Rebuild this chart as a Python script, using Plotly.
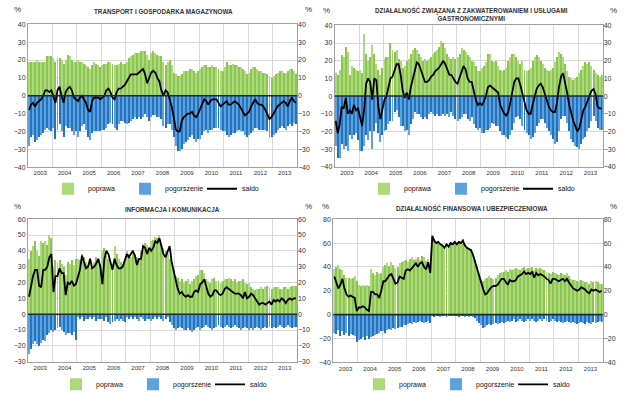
import plotly.graph_objects as go
import pandas as pd

months = pd.date_range("2003-01-01", periods=132, freq="MS")

# ---------- TRANSPORT I GOSPODARKA MAGAZYNOWA ----------
t_pop = [19,19,19,19,20,19,19,19,19,22,22,22,
         21,19,21,21,20,18,20,23,22,20,19,19,
         20,19,19,18,17,16,15,17,19,18,17,16,
         17,18,18,19,19,18,17,17,18,19,18,18,
         19,21,22,23,24,24,24,25,25,25,23,20,
         24,25,24,23,22,22,19,17,19,20,17,13,
         12,11,11,12,14,14,14,15,15,14,13,14,
         15,16,17,17,16,16,17,16,16,15,14,14,
         16,19,17,17,18,17,17,16,16,15,14,12,
         13,15,16,16,15,14,14,13,13,12,11,10,
         11,12,13,14,14,13,13,14,15,15,14,12]
t_pog = [-28,-23,-22,-26,-25,-23,-22,-21,-19,-18,-19,-20,
         -18,-24,-19,-16,-20,-23,-17,-18,-18,-20,-22,-20,
         -23,-20,-17,-16,-19,-23,-25,-21,-20,-20,-20,-20,
         -19,-19,-18,-16,-15,-16,-18,-19,-16,-14,-14,-15,
         -16,-15,-14,-13,-12,-13,-12,-13,-12,-10,-12,-14,
         -12,-11,-11,-12,-12,-13,-17,-18,-16,-16,-19,-23,
         -28,-31,-31,-30,-27,-26,-25,-23,-22,-24,-26,-24,
         -24,-22,-20,-19,-21,-19,-19,-18,-18,-18,-19,-20,
         -20,-22,-23,-22,-21,-21,-20,-19,-20,-20,-22,-23,
         -22,-21,-20,-18,-18,-19,-19,-19,-19,-20,-23,-23,
         -22,-21,-19,-18,-17,-18,-19,-17,-16,-17,-15,-16]
t_sal = [-8,-5,-4,-6,-4,-3,-2,0,3,3,2,3,
         -1,-4,3,5,0,-4,2,4,5,3,-1,-2,
         -3,-1,0,-2,-4,-8,-9,-3,-1,-1,-1,-2,
         -1,0,3,4,2,-1,-2,2,4,4,5,6,
         8,10,12,12,12,12,13,14,15,12,7,10,
         13,14,13,10,8,3,0,3,2,-2,-6,-12,
         -19,-20,-20,-14,-12,-11,-10,-10,-9,-11,-12,-10,
         -7,-4,-2,-3,-5,-3,-2,-2,-2,-4,-6,-5,
         -4,-3,-5,-5,-4,-3,-4,-5,-7,-9,-11,-10,
         -9,-6,-4,-2,-4,-5,-5,-6,-8,-11,-13,-12,
         -10,-8,-6,-5,-4,-3,-4,-6,-3,-1,-3,-4]

# ---------- ZAKWATEROWANIE I GASTRONOMIA ----------
z_pop = [13,12,15,23,22,28,25,12,17,16,15,14,
         15,13,35,24,20,22,29,24,18,15,12,16,
         21,22,22,30,26,25,26,21,20,16,17,20,
         21,24,26,27,26,24,22,20,21,20,21,22,
         24,25,26,28,31,30,27,24,22,21,22,21,
         22,24,27,26,25,23,22,20,19,17,14,14,
         16,17,19,24,24,20,19,20,17,15,14,15,
         16,20,22,24,24,22,20,18,20,15,14,15,
         16,20,22,23,22,20,18,16,15,14,15,16,
         19,22,25,24,22,18,14,11,10,9,10,11,
         13,15,17,19,18,19,17,15,13,12,11,12]
z_pog = [-28,-35,-35,-27,-30,-28,-31,-22,-24,-22,-21,-25,
         -31,-31,-28,-22,-25,-20,-30,-20,-15,-21,-26,-22,
         -20,-19,-16,-14,-14,-9,-8,-12,-17,-17,-20,-19,
         -22,-16,-13,-9,-10,-10,-12,-13,-12,-13,-10,-9,
         -10,-11,-10,-11,-11,-10,-11,-10,-12,-9,-11,-13,
         -14,-13,-12,-10,-10,-13,-14,-12,-16,-18,-19,-18,
         -21,-21,-19,-19,-18,-15,-16,-17,-17,-20,-22,-22,
         -23,-24,-22,-19,-15,-12,-11,-13,-17,-19,-21,-22,
         -24,-23,-21,-17,-15,-13,-13,-15,-18,-20,-22,-24,
         -27,-26,-20,-13,-11,-11,-15,-20,-24,-26,-28,-29,
         -30,-27,-24,-23,-20,-18,-14,-11,-14,-18,-19,-19]
z_sal = [-14,-21,-16,-6,-7,-1,-10,-8,-10,-5,-8,-7,
         -12,-17,-8,7,10,8,-2,10,9,-6,-13,-8,
         -2,0,5,10,11,15,18,18,12,3,-1,2,
         -2,5,10,14,19,18,15,11,8,8,9,11,
         12,14,15,16,18,20,18,15,12,12,10,8,
         7,10,14,17,15,10,8,8,3,-2,-5,-4,
         -5,-3,0,5,6,5,4,3,2,-5,-8,-10,
         -11,-9,-4,3,8,10,10,6,1,-4,-8,-10,
         -10,-5,0,4,6,7,5,1,-3,-6,-8,-9,
         -9,-4,5,11,13,8,2,-5,-10,-14,-17,-20,
         -18,-12,-8,-6,-3,0,3,4,1,-6,-7,-7]

# ---------- INFORMACJA I KOMUNIKACJA ----------
i_pop = [35,40,43,46,40,37,46,45,46,44,50,48,
         30,34,33,34,32,30,25,33,32,34,31,35,
         35,34,38,36,33,31,34,30,33,36,34,32,
         40,42,38,35,34,32,43,38,35,33,32,34,
         40,38,36,40,38,36,34,40,44,45,44,42,
         46,47,49,48,50,45,42,40,38,35,32,28,
         24,23,21,22,20,21,22,19,21,22,24,25,
         28,28,26,22,21,20,22,23,21,21,20,21,
         22,22,23,22,21,22,20,21,21,22,20,19,
         20,17,16,15,16,16,17,16,17,18,17,16,
         17,17,17,16,16,17,17,16,17,18,18,18]
i_pog = [-25,-22,-19,-17,-19,-20,-18,-16,-17,-13,-12,-10,
         -11,-10,-9,-8,-10,-11,-13,-12,-12,-13,-11,-16,
         -2,-3,-2,-4,-3,-3,-2,-3,-2,-4,-3,-3,
         -3,-4,-2,-5,-6,-5,-4,-3,-4,-3,-4,-5,
         -2,-3,-2,-3,-2,-3,-4,-2,-3,-4,-3,-3,
         -4,-3,-2,-3,-2,-3,-4,-3,-2,-5,-7,-9,
         -10,-9,-8,-9,-10,-10,-9,-10,-11,-10,-9,-8,
         -10,-9,-8,-7,-8,-9,-10,-9,-8,-7,-8,-9,
         -8,-7,-8,-9,-8,-7,-8,-9,-10,-9,-8,-9,
         -10,-9,-10,-9,-8,-9,-10,-9,-8,-9,-8,-9,
         -8,-9,-8,-7,-8,-9,-8,-7,-8,-9,-8,-8]
i_sal = [11,18,24,28,28,18,17,28,28,30,36,38,
         14,24,24,29,26,26,12,20,19,21,18,19,
         24,28,37,33,29,30,35,29,30,32,35,30,
         19,35,40,38,33,28,35,31,29,29,30,34,
         38,36,38,40,37,31,35,35,43,42,38,42,
         40,42,46,45,48,42,38,36,40,43,33,27,
         22,16,13,14,12,11,12,11,11,14,15,14,
         19,20,22,17,13,11,12,15,15,13,12,13,
         16,17,16,15,14,13,13,13,12,10,14,10,
         11,13,12,10,8,6,7,7,6,7,8,6,
         9,8,9,8,10,9,7,9,10,9,10,10]

# ---------- FINANSOWA I UBEZPIECZENIOWA ----------
f_pop = [38,40,42,38,37,33,31,31,30,31,32,28,
         25,24,25,24,25,24,38,35,33,36,34,35,
         40,42,43,41,44,42,39,40,43,44,45,46,
         44,47,48,46,47,48,46,49,48,45,47,42,
         64,62,61,62,60,59,57,60,58,61,60,62,
         61,62,61,63,59,57,56,55,51,46,40,34,
         30,28,30,31,32,31,30,31,33,35,36,36,
         37,36,38,37,38,39,38,37,39,40,38,39,
         39,40,37,39,38,39,38,37,36,35,34,36,
         35,34,33,35,34,33,35,32,30,29,29,28,
         28,29,28,27,27,26,28,27,28,27,26,26]
f_pog = [-15,-16,-13,-18,-14,-17,-15,-18,-16,-17,-18,-23,
         -21,-20,-19,-21,-18,-20,-19,-18,-17,-16,-15,-14,
         -14,-15,-13,-12,-13,-11,-12,-11,-10,-10,-9,-9,
         -8,-7,-8,-6,-7,-6,-5,-6,-7,-6,-5,-7,
         -1,-2,-1,-1,-2,-1,-1,-2,-1,-1,-1,-1,
         -1,-2,-1,-1,-2,-1,-2,-1,-2,-3,-5,-7,
         -9,-11,-10,-9,-8,-9,-8,-7,-8,-7,-6,-7,
         -6,-5,-6,-5,-4,-6,-5,-4,-5,-6,-5,-4,
         -5,-4,-5,-6,-5,-4,-5,-4,-5,-6,-5,-4,
         -5,-6,-5,-6,-7,-6,-5,-6,-7,-6,-7,-8,
         -7,-6,-7,-8,-6,-7,-8,-6,-7,-6,-5,-6]
f_sal = [32,26,22,25,30,22,17,15,16,15,14,3,
         6,6,7,6,4,3,19,19,17,17,14,20,
         28,28,31,33,34,30,26,27,32,31,30,37,
         38,37,39,41,43,40,43,44,40,38,44,35,
         66,62,60,61,59,58,56,59,57,60,59,61,
         59,61,60,62,58,56,55,54,50,44,38,32,
         25,21,17,18,21,23,24,24,25,28,30,30,
         27,25,29,28,28,29,32,33,34,36,34,35,
         34,36,31,35,33,34,33,32,30,29,26,30,
         30,29,28,29,30,28,30,27,24,22,21,20,
         21,23,22,21,19,18,21,20,21,20,19,20]

titles = ["TRANSPORT I GOSPODARKA MAGAZYNOWA",
          "DZIAŁALNOŚĆ ZWIĄZANA Z ZAKWATEROWANIEM I USŁUGAMI<br>GASTRONOMICZNYMI",
          "INFORMACJA I KOMUNIKACJA",
          "DZIAŁALNOŚĆ FINANSOWA I UBEZPIECZENIOWA"]
legend_names = ["poprawa", "pogorszenie", "saldo"]

W, H = 640, 403
FONT = "Arial, Liberation Sans, sans-serif"
G = ["#abd97c", "#8cc651"]
B = ["#5da2dc", "#2373bf"]

panels = [
    dict(pop=t_pop, pog=t_pog, sal=t_sal, rng=[-40, 40], dt=10,
         px=(28, 297), py=(20.7, 166), title_xy=(163, 8), pct=((17, 6), (308, 6)), leg=(48, 188)),
    dict(pop=z_pop, pog=z_pog, sal=z_sal, rng=[-40, 40], dt=10,
         px=(334.7, 602.7), py=(21.7, 165.7), title_xy=(471, 10), pct=((326, 7), (613, 7)), leg=(364, 188)),
    dict(pop=i_pop, pog=i_pog, sal=i_sal, rng=[-30, 60], dt=10,
         px=(28, 297), py=(219, 364), title_xy=(172, 209), pct=((17, 206), (308, 206)), leg=(56, 387)),
    dict(pop=f_pop, pog=f_pog, sal=f_sal, rng=[-40, 80], dt=20,
         px=(333.3, 602.7), py=(219, 364.7), title_xy=(472, 208), pct=((325, 206), (613, 206)), leg=(359, 387)),
]

fig = go.Figure()
layout = dict(width=W, height=H, margin=dict(l=0, r=0, t=0, b=0),
              paper_bgcolor="white", plot_bgcolor="white",
              barmode="relative", bargap=0.0,
              font=dict(family=FONT, size=7, color="#222222"),
              annotations=[], shapes=[])

gcols = [G[k % 2] for k in range(len(months))]
bcols = [B[k % 2] for k in range(len(months))]

for n, p in enumerate(panels, start=1):
    xa = "x" if n == 1 else f"x{n}"
    ya = "y" if n == 1 else f"y{n}"
    yr = f"y{n + 4}"
    lg = "legend" if n == 1 else f"legend{n}"
    fig.add_trace(go.Bar(x=months, y=p["pop"], xperiod="M1", xperiodalignment="middle",
                         marker=dict(color=gcols, line=dict(width=0)), name=legend_names[0],
                         xaxis=xa, yaxis=ya, legend=lg, hoverinfo="skip"))
    fig.add_trace(go.Bar(x=months, y=p["pog"], xperiod="M1", xperiodalignment="middle",
                         marker=dict(color=bcols, line=dict(width=0)), name=legend_names[1],
                         xaxis=xa, yaxis=ya, legend=lg, hoverinfo="skip"))
    fig.add_trace(go.Scatter(x=months, y=p["sal"], xperiod="M1", xperiodalignment="middle",
                             mode="lines", line=dict(color="black", width=1.8),
                             name=legend_names[2], xaxis=xa, yaxis=yr, legend=lg, hoverinfo="skip"))

    xd = [p["px"][0] / W, p["px"][1] / W]
    yd = [1 - p["py"][1] / H, 1 - p["py"][0] / H]
    xkey = "xaxis" if n == 1 else f"xaxis{n}"
    ykey = "yaxis" if n == 1 else f"yaxis{n}"
    layout[xkey] = dict(domain=xd, anchor=ya, type="date",
                        range=["2003-01-01", "2014-01-01"], tick0="2003-01-01", dtick="M12",
                        tickformat="%Y", ticklabelmode="period", ticks="",
                        showgrid=True, gridcolor="#d9d9d9", gridwidth=1,
                        showline=True, linecolor="#a0a0a0", mirror=True,
                        tickfont=dict(size=6, color="#333333"), fixedrange=True)
    layout[ykey] = dict(domain=yd, anchor=xa, range=p["rng"], dtick=p["dt"], tick0=0,
                        showgrid=True, gridcolor="#d9d9d9", gridwidth=1, zeroline=False,
                        showline=True, linecolor="#a0a0a0", mirror=True, ticks="",
                        tickfont=dict(size=7, color="#333333"))
    layout[f"yaxis{n + 4}"] = dict(overlaying=ya, anchor=xa, side="right", range=p["rng"],
                                   dtick=p["dt"], tick0=0, showgrid=False, zeroline=False,
                                   ticks="", tickfont=dict(size=7, color="#333333"))
    # zero reference line
    layout["shapes"].append(dict(type="line", xref=f"{xa} domain", x0=0, x1=1,
                                 yref=ya, y0=0, y1=0, layer="above",
                                 line=dict(color="#1c2a40", width=1.6)))
    # title
    tx, ty = p["title_xy"]
    layout["annotations"].append(dict(text="<b>" + titles[n - 1] + "</b>", x=tx / W, y=1 - ty / H,
                                      xref="paper", yref="paper", showarrow=False,
                                      xanchor="center", yanchor="middle",
                                      font=dict(size=6.3, color="#333333")))
    for (cx, cy) in p["pct"]:
        layout["annotations"].append(dict(text="%", x=cx / W, y=1 - cy / H, xref="paper", yref="paper",
                                          showarrow=False, xanchor="center", yanchor="middle",
                                          font=dict(size=8, color="#333333")))
    lx, ly = p["leg"]
    layout[lg] = dict(orientation="h", x=lx / W, y=1 - ly / H, xanchor="left", yanchor="middle",
                      xref="paper", yref="paper", bgcolor="rgba(0,0,0,0)",
                      font=dict(size=7, color="#111111"), entrywidth=32, entrywidthmode="pixels",
                      itemwidth=30, traceorder="normal")

fig.update_layout(**layout)
fig.write_html("out.html", config={"displayModeBar": False, "staticPlot": True},
               post_script="document.body.style.margin='0';document.body.style.padding='0';")
